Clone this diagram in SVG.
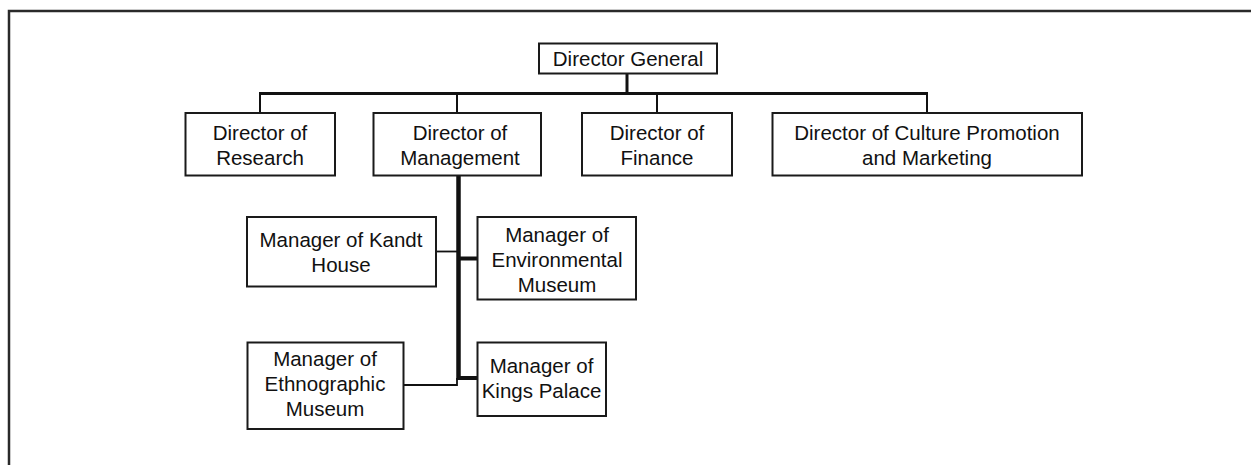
<svg xmlns="http://www.w3.org/2000/svg" width="1251" height="465" viewBox="0 0 1251 465">
  <style>
    .box { fill: #ffffff; stroke: #1a1a1a; stroke-width: 2; }
    .frame { fill: none; stroke: #2a2a2a; stroke-width: 2.5; }
    .lbl { font-family: "Liberation Sans", Arial, sans-serif; font-size: 20.5px; fill: #111111; text-anchor: middle; }
    .bar { stroke: #111111; stroke-width: 3; fill: none; }
    .drop { stroke: #111111; stroke-width: 2; fill: none; }
    .trunk { stroke: #111111; stroke-width: 4.5; fill: none; }
    .thick { stroke: #111111; stroke-width: 4; fill: none; }
    .thin { stroke: #111111; stroke-width: 1.8; fill: none; }
  </style>

  <rect width="1251" height="465" fill="#ffffff"/>
  <path class="frame" d="M9,465 V11 H1251"/>

  <g id="connectors">
    <line class="bar" x1="627" y1="73" x2="627" y2="93.5"/>
    <line class="bar" x1="259" y1="93.5" x2="928" y2="93.5"/>
    <line class="drop" x1="260" y1="93.5" x2="260" y2="113"/>
    <line class="drop" x1="457" y1="93.5" x2="457" y2="113"/>
    <line class="drop" x1="657" y1="93.5" x2="657" y2="113"/>
    <line class="drop" x1="927" y1="93.5" x2="927" y2="113"/>
    <line class="trunk" x1="458.5" y1="175" x2="458.5" y2="380"/>
    <line class="thin" x1="436" y1="251.5" x2="457" y2="251.5"/>
    <line class="thick" x1="460" y1="258.5" x2="478" y2="258.5"/>
    <line class="thick" x1="460" y1="378" x2="478" y2="378"/>
    <polyline class="thin" points="403,385 457,385 457,378"/>
  </g>

  <g id="director-general">
    <rect class="box" x="539" y="43.5" width="178" height="30"/>
    <text class="lbl" x="628" y="66">Director General</text>
  </g>

  <g id="director-research">
    <rect class="box" x="185.5" y="113" width="149.5" height="62.5"/>
    <text class="lbl" x="260" y="140">Director of</text>
    <text class="lbl" x="260" y="165">Research</text>
  </g>

  <g id="director-management">
    <rect class="box" x="373.5" y="113" width="167.5" height="62.5"/>
    <text class="lbl" x="460" y="140">Director of</text>
    <text class="lbl" x="460" y="165">Management</text>
  </g>

  <g id="director-finance">
    <rect class="box" x="582" y="113" width="150" height="62.5"/>
    <text class="lbl" x="657" y="140">Director of</text>
    <text class="lbl" x="657" y="165">Finance</text>
  </g>

  <g id="director-culture">
    <rect class="box" x="772.5" y="113" width="309.5" height="62.5"/>
    <text class="lbl" x="927" y="140">Director of Culture Promotion</text>
    <text class="lbl" x="927" y="165">and Marketing</text>
  </g>

  <g id="manager-kandt">
    <rect class="box" x="247" y="217" width="189" height="69.5"/>
    <text class="lbl" x="341" y="247">Manager of Kandt</text>
    <text class="lbl" x="341" y="272">House</text>
  </g>

  <g id="manager-environmental">
    <rect class="box" x="477.5" y="217" width="158.5" height="82.5"/>
    <text class="lbl" x="557" y="241.5">Manager of</text>
    <text class="lbl" x="557" y="266.5">Environmental</text>
    <text class="lbl" x="557" y="291.5">Museum</text>
  </g>

  <g id="manager-ethnographic">
    <rect class="box" x="247.5" y="342.5" width="156" height="86.5"/>
    <text class="lbl" x="325" y="365.5">Manager of</text>
    <text class="lbl" x="325" y="390.5">Ethnographic</text>
    <text class="lbl" x="325" y="415.5">Museum</text>
  </g>

  <g id="manager-kings-palace">
    <rect class="box" x="477.5" y="342.5" width="128.5" height="73.5"/>
    <text class="lbl" x="541.5" y="372.5">Manager of</text>
    <text class="lbl" x="541.5" y="397.5">Kings Palace</text>
  </g>
</svg>
